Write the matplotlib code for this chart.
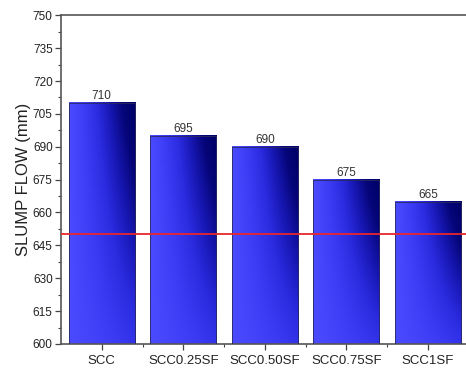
import numpy as np
import matplotlib
matplotlib.use("Agg")
import matplotlib.pyplot as plt
from matplotlib.colors import LinearSegmentedColormap
from matplotlib.ticker import MultipleLocator, FixedLocator

plt.rcParams['font.family'] = ['Liberation Sans', 'DejaVu Sans']

categories = ["SCC", "SCC0.25SF", "SCC0.50SF", "SCC0.75SF", "SCC1SF"]
slump_flow = [710, 695, 690, 675, 665]
limit_line = 650
y_ticks = [600, 615, 630, 645, 660, 675, 690, 705, 720, 735, 750]

fig = plt.figure(figsize=(4.66, 3.69), dpi=100)
ax = fig.add_axes([0.1309, 0.0678, 0.875, 0.8908])

x = np.arange(len(categories))
bar_w = 0.81
base = 600

cmap = LinearSegmentedColormap.from_list(
    "bluegrad", ["#4a4aff", "#3b3bf4", "#2a2ade", "#1616b0", "#06067a", "#00006a"])

# per-bar shaded fill: darker toward the right, strongest near the top
nx, ny = 120, 200
gx = np.linspace(0, 1, nx)[None, :]
gy = np.linspace(0, 1, ny)[:, None]          # 0 = bottom, 1 = top
shade = (gx ** 1.15) * (0.3 + 0.75 * gy ** 1.0)
shade = np.clip(shade, 0, 1)

for xi, v in zip(x, slump_flow):
    x0, x1 = xi - bar_w / 2, xi + bar_w / 2
    ax.imshow(shade, cmap=cmap, vmin=0, vmax=1, origin="lower",
              extent=(x0, x1, base, v), aspect="auto", zorder=2,
              interpolation="bilinear")
    ax.bar(xi, v - base, bottom=base, width=bar_w, facecolor="none",
           edgecolor="#2a2a5a", linewidth=0.6, zorder=3)
    ax.text(xi, v + 0.3, f"{v}", ha="center", va="bottom", fontsize=8.5,
            color="#333333", zorder=4)

ax.axhline(limit_line, color="#e8262b", linewidth=1.3, zorder=5)

ax.set_xlim(-0.5, 4.5)
ax.set_ylim(600, 750)
ax.set_yticks(y_ticks)
ax.yaxis.set_minor_locator(MultipleLocator(7.5))
ax.set_xticks(x)
ax.set_xticklabels(categories)
ax.xaxis.set_minor_locator(FixedLocator(x[:-1] + 0.5))

ax.tick_params(axis="both", which="major", direction="out", length=4,
               width=0.9, color="#444444", labelcolor="#222222")
ax.tick_params(axis="y", labelsize=8.5, pad=2)
ax.tick_params(axis="x", labelsize=9.5, pad=4)
ax.tick_params(axis="both", which="minor", direction="out", length=2.5,
               width=0.8, color="#444444")

for s in ax.spines.values():
    s.set_color("#555555")
    s.set_linewidth(1.2)

ax.set_ylabel("SLUMP FLOW (mm)", fontsize=12, color="#222222", labelpad=1)

fig.savefig("out.png", dpi=100)
